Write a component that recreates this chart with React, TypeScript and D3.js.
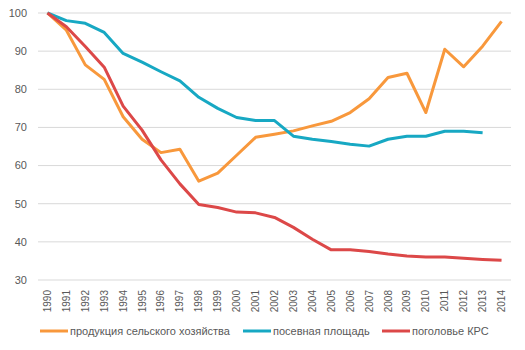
import React, { useEffect, useRef } from 'react';
import * as d3 from 'd3';

const years = ['1990', '1991', '1992', '1993', '1994', '1995', '1996', '1997', '1998', '1999', '2000', '2001', '2002',
  '2003', '2004', '2005', '2006', '2007', '2008', '2009', '2010', '2011', '2012', '2013', '2014'];

const production = [100, 95.5, 86.4, 82.6, 72.8, 66.9, 63.4, 64.3, 55.9, 58, 62.7, 67.4, 68.2,
  69.1, 70.4, 71.6, 73.9, 77.5, 83.1, 84.2, 73.9, 90.5, 85.9, 91.3, 97.8];
const sownArea = [100, 98, 97.3, 94.9, 89.4, 87.1, 84.6, 82.2, 77.9, 75, 72.6, 71.8, 71.8,
  67.7, 66.9, 66.3, 65.6, 65.1, 66.9, 67.7, 67.7, 69, 69, 68.6, null];
const cattle = [100, 96.4, 91.2, 85.8, 75.6, 69.3, 61.5, 55.2, 49.8, 49, 47.8, 47.6, 46.4,
  43.8, 40.7, 37.9, 37.9, 37.5, 36.8, 36.3, 36, 36, 35.7, 35.4, 35.2];

const seriesNames = ['продукция сельского хозяйства', 'посевная площадь', 'поголовье КРС'];
const seriesColors = ['#F8983C', '#17A8C3', '#DC4848'];
const yTicks = [30, 40, 50, 60, 70, 80, 90, 100];

const App = () => {
  const ref = useRef<SVGSVGElement>(null);

  useEffect(() => {
    const svg = d3.select(ref.current);
    svg.selectAll('*').remove();

    const left = 38, right = 511, top = 13, bottom = 280;
    const font = '"Liberation Sans", Arial, sans-serif';

    const x = d3.scaleBand().domain(years).range([left, right]);
    const y = d3.scaleLinear().domain([30, 100]).range([bottom, top]);

    // grid
    svg.append('g')
      .selectAll('line')
      .data(yTicks)
      .join('line')
        .attr('x1', left)
        .attr('x2', right)
        .attr('y1', d => y(d))
        .attr('y2', d => y(d))
        .attr('stroke', '#D9D9D9')
        .attr('stroke-width', 1);

    // y labels
    svg.append('g')
      .selectAll('text')
      .data(yTicks)
      .join('text')
        .attr('x', 27)
        .attr('y', d => y(d))
        .attr('dy', '0.35em')
        .attr('text-anchor', 'end')
        .attr('fill', '#595959')
        .style('font', `11px ${font}`)
        .text(d => d);

    // x labels
    svg.append('g')
      .selectAll('text')
      .data(years)
      .join('text')
        .attr('transform', d => `translate(${x(d)! + x.bandwidth() / 2},290) rotate(-90)`)
        .attr('dy', '0.35em')
        .attr('text-anchor', 'end')
        .attr('fill', '#595959')
        .style('font', `10px ${font}`)
        .text(d => d);

    const all = [production, sownArea, cattle];
    const line = d3.line<number | null>()
      .defined(d => d != null)
      .x((_, i) => x(years[i])! + x.bandwidth() / 2)
      .y(d => y(d as number));

    all.forEach((vals, i) => {
      svg.append('path')
        .datum(vals)
        .attr('fill', 'none')
        .attr('stroke', seriesColors[i])
        .attr('stroke-width', 3)
        .attr('stroke-linejoin', 'round')
        .attr('d', line);
    });

    // legend
    const legendX = [40, 243, 382];
    const legend = svg.append('g');
    seriesNames.forEach((name, i) => {
      legend.append('line')
        .attr('x1', legendX[i])
        .attr('x2', legendX[i] + 28)
        .attr('y1', 331)
        .attr('y2', 331)
        .attr('stroke', seriesColors[i])
        .attr('stroke-width', 3);
      legend.append('text')
        .attr('x', legendX[i] + 30)
        .attr('y', 331)
        .attr('dy', '0.35em')
        .attr('fill', '#595959')
        .style('font', `11px ${font}`)
        .text(name);
    });
  }, []);

  return (
    <svg ref={ref} width="525" height="350"
      style={{ position: 'absolute', left: 0, top: 0, background: '#fff' }}></svg>
  );
};

export default App;
